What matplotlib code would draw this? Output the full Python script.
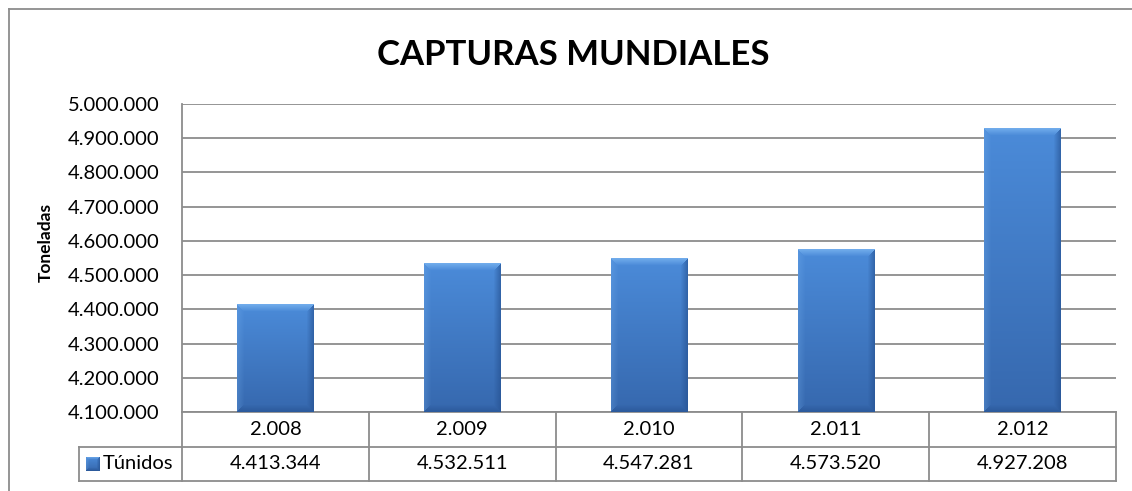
import numpy as np
import matplotlib
matplotlib.use('Agg')
from matplotlib import pyplot as plt
from matplotlib.lines import Line2D

plt.rcParams['font.family'] = ['Lato', 'DejaVu Sans']

# Capturas mundiales de túnidos (toneladas)
years = ['2.008', '2.009', '2.010', '2.011', '2.012']
capturas = [4413344, 4532511, 4547281, 4573520, 4927208]
serie = 'Túnidos'
y_ticks = [4100000 + 100000 * i for i in range(10)]

W, H = 1132, 491
fig = plt.figure(figsize=(W / 100, H / 100), dpi=100)

def fx(px):
    return px / W

def fy(py):
    return 1 - py / H

grey = '#8c8c8c'

# chart frame (left and top edges only; the rest falls outside)
fkw = dict(color=grey, linewidth=1.3, transform=fig.transFigure)
fig.add_artist(Line2D([fx(8.5), fx(8.5)], [fy(9), fy(H + 5)], **fkw))
fig.add_artist(Line2D([fx(8.5), fx(W + 5)], [fy(9), fy(9)], **fkw))

left, right, top, bottom = 182, 1116, 104, 412
ax = fig.add_axes([fx(left), fy(bottom), fx(right - left), fy(top) - fy(bottom)])
ax.set_xlim(-0.5, len(years) - 0.5)
ax.set_ylim(y_ticks[0], y_ticks[-1])
ax.set_yticks(y_ticks)
ax.set_yticklabels([f'{v:,}'.replace(',', '.') for v in y_ticks], fontsize=14.5)
ax.set_xticks([])
ax.tick_params(axis='y', length=0, pad=16)
ax.grid(axis='y', color=grey, linewidth=1.3)
ax.set_axisbelow(True)
for s in ['top', 'right']:
    ax.spines[s].set_visible(False)
for s in ['left', 'bottom']:
    ax.spines[s].set_color(grey)
    ax.spines[s].set_linewidth(1.3)

fig.text(fx(46), fy(242), 'Toneladas', rotation=90, ha='center', va='center',
         fontsize=12.5, fontweight='bold')

bar_w = 0.41
bars = ax.bar(range(len(years)), capturas, width=bar_w, bottom=0,
              color='#3d7acb', zorder=2)


def bevel_image(nx, ny, b=7):
    # vertical gradient body with mitred bevel edges
    top_c = np.array([0x4b, 0x8b, 0xd9]) / 255
    bot_c = np.array([0x36, 0x68, 0xae]) / 255
    t = np.linspace(0, 1, ny)[:, None, None]
    img = top_c * (1 - t) + bot_c * t
    img = np.repeat(img, nx, axis=1)
    ii, jj = np.mgrid[0:ny, 0:nx]
    dists = np.stack([ii, ny - 1 - ii, jj, nx - 1 - jj])
    edge = np.argmin(dists, axis=0)
    dmin = np.min(dists, axis=0)
    inb = dmin < b
    f = (1 - dmin / b)[..., None]
    light = np.array([0x7a, 0xb4, 0xf0]) / 255
    dark = np.array([0x24, 0x4f, 0x8e]) / 255
    for k, (col, amt) in enumerate([(light, 0.8), (dark, 0.55),
                                    (light, 0.25), (dark, 0.6)]):
        m = (inb & (edge == k))[..., None]
        img = np.where(m, img * (1 - amt * f) + col * amt * f, img)
    return img


fig.canvas.draw()
for rect in bars:
    x0, y0 = rect.get_x(), y_ticks[0]
    x1, y1 = x0 + rect.get_width(), rect.get_height()
    p0 = ax.transData.transform((x0, y0))
    p1 = ax.transData.transform((x1, y1))
    nx, ny = int(round(p1[0] - p0[0])), int(round(p1[1] - p0[1]))
    ax.imshow(bevel_image(nx, ny), extent=(x0, x1, y0, y1), aspect='auto',
              interpolation='bilinear', zorder=3)
ax.set_xlim(-0.5, len(years) - 0.5)
ax.set_ylim(y_ticks[0], y_ticks[-1])

# data table under the plot
row_h = 34.5
tab_left = 79
lkw = dict(color=grey, linewidth=1.3, transform=fig.transFigure, zorder=5)
bounds = [left + (right - left) * i / len(years) for i in range(len(years) + 1)]
for xb in bounds:
    fig.add_artist(Line2D([fx(xb), fx(xb)], [fy(bottom), fy(bottom + 2 * row_h)], **lkw))
fig.add_artist(Line2D([fx(tab_left), fx(tab_left)], [fy(bottom + row_h), fy(bottom + 2 * row_h)], **lkw))
fig.add_artist(Line2D([fx(tab_left), fx(right)], [fy(bottom + row_h), fy(bottom + row_h)], **lkw))
fig.add_artist(Line2D([fx(tab_left), fx(right)], [fy(bottom + 2 * row_h), fy(bottom + 2 * row_h)], **lkw))

for i, (yr, val) in enumerate(zip(years, capturas)):
    cx = (bounds[i] + bounds[i + 1]) / 2
    fig.text(fx(cx), fy(bottom + row_h / 2), yr, ha='center', va='center', fontsize=14.5)
    fig.text(fx(cx), fy(bottom + 1.5 * row_h), f'{val:,}'.replace(',', '.'),
             ha='center', va='center', fontsize=14.5)

# legend key
kax = fig.add_axes([fx(86), fy(471), fx(14), fy(457) - fy(471)])
kax.imshow(bevel_image(14, 14, b=3), aspect='auto')
kax.axis('off')
fig.text(fx(103), fy(bottom + 1.5 * row_h), serie, ha='left', va='center', fontsize=14.5)

fig.text(fx(573), fy(55), 'CAPTURAS MUNDIALES', ha='center', va='center',
         fontsize=25, fontweight='bold')

fig.savefig('out.png', dpi=100)
